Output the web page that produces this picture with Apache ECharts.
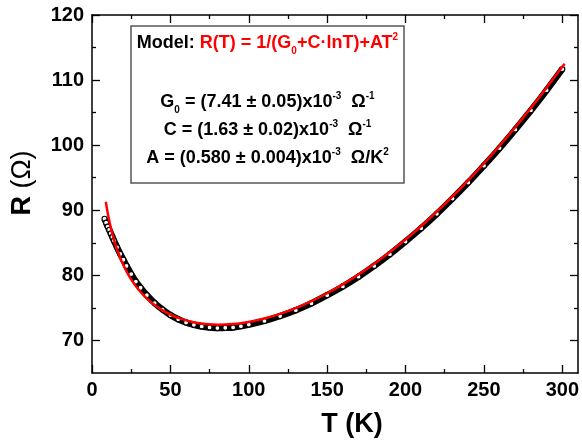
<!DOCTYPE html>
<html>
<head>
<meta charset="utf-8">
<script src="https://cdn.jsdelivr.net/npm/echarts@6/dist/echarts.min.js"></script>
<style>
html,body{margin:0;padding:0;background:#fff;}
#chart{width:582px;height:442px;}
</style>
</head>
<body>
<div id="chart"></div>
<script>
// Measured data (black open circles)
const tData = [8, 9, 10, 11, 12, 13, 14, 16, 18, 20, 22, 25, 28, 31, 35, 40, 45, 50, 55, 60, 65, 70, 75, 80, 85, 90, 95, 100, 110, 120, 130, 140, 150, 160, 170, 180, 190, 200, 210, 220, 230, 240, 250, 260, 270, 280, 290, 300];
const rData = [88.7, 88.1, 87.5, 87.0, 86.45, 85.9, 85.35, 84.3, 83.3, 82.4, 81.45, 80.2, 79.05, 78.1, 76.95, 75.75, 74.75, 73.9, 73.25, 72.75, 72.4, 72.15, 72.0, 71.9, 71.95, 72.0, 72.2, 72.45, 73.0, 73.75, 74.65, 75.7, 76.95, 78.3, 79.8, 81.45, 83.25, 85.2, 87.25, 89.45, 91.8, 94.25, 96.85, 99.55, 102.4, 105.35, 108.45, 111.7];
// Fit curve (red line)
const tFit = [8.8, 10, 11, 12, 13, 14, 15, 16, 18, 20, 23, 26, 30, 35, 40, 45, 50, 55, 60, 65, 70, 75, 80, 85, 90, 95, 100, 110, 120, 130, 140, 150, 160, 170, 180, 190, 200, 210, 220, 230, 240, 250, 260, 270, 280, 290, 300, 301.5];
const rFit = [91.3, 89.6, 88.42, 87.34, 86.37, 85.5, 84.7, 83.98, 82.69, 81.58, 80.17, 79.0, 77.72, 76.44, 75.43, 74.62, 73.98, 73.48, 73.09, 72.8, 72.6, 72.48, 72.42, 72.44, 72.52, 72.65, 72.84, 73.37, 74.08, 74.97, 76.03, 77.25, 78.61, 80.13, 81.78, 83.59, 85.52, 87.59, 89.79, 92.13, 94.6, 97.19, 99.91, 102.76, 105.73, 108.83, 112.05, 112.5];
// Axis ticks
const xTicks = [0, 50, 100, 150, 200, 250, 300];
const xMinor = [25, 75, 125, 175, 225, 275];
const yTicks = [70, 80, 90, 100, 110, 120];
const yMinor = [75, 85, 95, 105, 115];

const FONT = '"Liberation Sans", Arial, sans-serif';
const chart = echarts.init(document.getElementById('chart'), null, {renderer: 'canvas'});

function xAx(pos, ticks, len, showLabel, showLine) {
  return {
    type: 'value', position: pos, min: 0, max: 310,
    axisLine: {show: showLine, onZero: false, lineStyle: {color: '#000', width: 1.5}},
    axisTick: {show: true, inside: true, length: len, customValues: ticks, lineStyle: {color: '#000', width: 1.3}},
    axisLabel: {show: showLabel, customValues: ticks, margin: 7, color: '#000', fontSize: 20, fontWeight: 'bold', fontFamily: FONT},
    splitLine: {show: false}
  };
}
function yAx(pos, ticks, len, showLabel, showLine) {
  return {
    type: 'value', position: pos, min: 65, max: 120,
    axisLine: {show: showLine, onZero: false, lineStyle: {color: '#000', width: 1.5}},
    axisTick: {show: true, inside: true, length: len, customValues: ticks, lineStyle: {color: '#000', width: 1.3}},
    axisLabel: {show: showLabel, customValues: ticks, margin: 8, color: '#000', fontSize: 20, fontWeight: 'bold', fontFamily: FONT},
    splitLine: {show: false}
  };
}

const FS = 18;
const option = {
  backgroundColor: '#fff',
  animation: false,
  grid: {left: 92, right: 4, top: 15, bottom: 69, containLabel: false},
  xAxis: [
    xAx('bottom', xTicks, 8, true, true),
    xAx('bottom', xMinor, 4, false, false),
    xAx('top', xTicks, 8, false, true),
    xAx('top', xMinor, 4, false, false)
  ],
  yAxis: [
    yAx('left', yTicks, 8, true, true),
    yAx('left', yMinor, 4, false, false),
    yAx('right', yTicks, 8, false, true),
    yAx('right', yMinor, 4, false, false)
  ],
  series: [
    {
      type: 'line', xAxisIndex: 0, yAxisIndex: 0,
      data: tData.map((t, i) => [t, rData[i]]),
      smooth: 0.3,
      lineStyle: {color: '#000', width: 6.5},
      symbol: 'circle', symbolSize: 5, showSymbol: true,
      itemStyle: {color: '#fff', borderColor: '#000', borderWidth: 1.2},
      z: 2
    },
    {
      type: 'line', xAxisIndex: 0, yAxisIndex: 0,
      data: tFit.map((t, i) => [t, rFit[i]]),
      smooth: 0.3, showSymbol: false,
      lineStyle: {color: '#ff0000', width: 2.5},
      z: 3
    }
  ],
  graphic: [
    {type: 'rect', shape: {x: 131, y: 26, width: 273, height: 157}, style: {fill: 'none', stroke: '#555', lineWidth: 1.5}, z: 10},
    {type: 'text', x: 267.5, y: 43, z: 11, style: {
      text: '{b|Model: }{r|R(T) = 1/(G}{rs|0}{r|+C·lnT)+AT}{rp|2}',
      align: 'center', verticalAlign: 'middle', font: 'bold ' + FS + 'px ' + FONT,
      rich: {
        b: {fill: '#000', fontSize: FS, fontWeight: 'bold', fontFamily: FONT},
        r: {fill: '#ff0000', fontSize: FS, fontWeight: 'bold', fontFamily: FONT},
        rs: {fill: '#ff0000', fontSize: 10, fontWeight: 'bold', fontFamily: FONT, padding: [16, 0, 0, 0]},
        rp: {fill: '#ff0000', fontSize: 10, fontWeight: 'bold', fontFamily: FONT, padding: [0, 0, 11, 0]}
      }}},
    {type: 'text', x: 267.5, y: 102, z: 11, style: {
      text: '{n|G}{s|0}{n| = (7.41 ± 0.05)x10}{p|-3}{n|  Ω}{p|-1}',
      align: 'center', verticalAlign: 'middle', font: 'bold ' + FS + 'px ' + FONT,
      rich: {
        n: {fill: '#000', fontSize: FS, fontWeight: 'bold', fontFamily: FONT},
        s: {fill: '#000', fontSize: 10, fontWeight: 'bold', fontFamily: FONT, padding: [16, 0, 0, 0]},
        p: {fill: '#000', fontSize: 10, fontWeight: 'bold', fontFamily: FONT, padding: [0, 0, 11, 0]}
      }}},
    {type: 'text', x: 267.5, y: 130, z: 11, style: {
      text: '{n|C = (1.63 ± 0.02)x10}{p|-3}{n|  Ω}{p|-1}',
      align: 'center', verticalAlign: 'middle', font: 'bold ' + FS + 'px ' + FONT,
      rich: {
        n: {fill: '#000', fontSize: FS, fontWeight: 'bold', fontFamily: FONT},
        p: {fill: '#000', fontSize: 10, fontWeight: 'bold', fontFamily: FONT, padding: [0, 0, 11, 0]}
      }}},
    {type: 'text', x: 267.5, y: 158, z: 11, style: {
      text: '{n|A = (0.580 ± 0.004)x10}{p|-3}{n|  Ω/K}{p|2}',
      align: 'center', verticalAlign: 'middle', font: 'bold ' + FS + 'px ' + FONT,
      rich: {
        n: {fill: '#000', fontSize: FS, fontWeight: 'bold', fontFamily: FONT},
        p: {fill: '#000', fontSize: 10, fontWeight: 'bold', fontFamily: FONT, padding: [0, 0, 11, 0]}
      }}},
    {type: 'text', x: 352, y: 425, z: 11, style: {
      text: 'T (K)', align: 'center', verticalAlign: 'middle',
      fill: '#000', font: 'bold 27px ' + FONT}},
    {type: 'text', x: 22.5, y: 183, rotation: Math.PI / 2, z: 11, style: {
      text: '{b|R }{n|(Ω)}', align: 'center', verticalAlign: 'middle', font: 'bold 27px ' + FONT,
      rich: {
        b: {fill: '#000', fontSize: 27, fontWeight: 'bold', fontFamily: FONT},
        n: {fill: '#000', fontSize: 27, fontWeight: 'normal', fontFamily: FONT}
      }}}
  ]
};
chart.setOption(option);
</script>
</body>
</html>
